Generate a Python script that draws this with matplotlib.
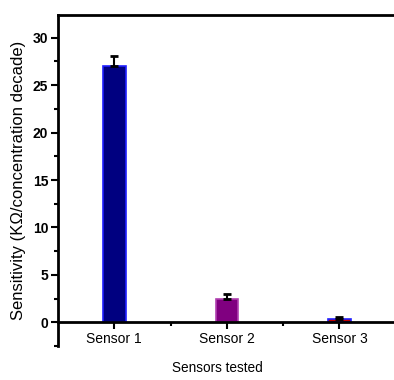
import matplotlib
matplotlib.use("Agg")
import matplotlib.pyplot as plt
from matplotlib.ticker import MultipleLocator, FixedLocator

plt.rcParams['font.family'] = ['Liberation Sans', 'DejaVu Sans']

# datos
sensores = ["Sensor 1", "Sensor 2", "Sensor 3"]
sensibilidad = [27.0, 2.5, 0.3]
error = [1.1, 0.45, 0.25]
relleno = ["#000080", "#800080", "#C00000"]
borde = ["#2020FF", "#B040B0", "#2020FF"]

fig = plt.figure(figsize=(3.94, 3.80), dpi=100)
ax = fig.add_axes([58/394, 34/380, 340/394, 331/380])

posiciones = [1, 2, 3]
ax.bar(posiciones, sensibilidad, width=0.2, color=relleno, edgecolor=borde, linewidth=1.2, zorder=2)
ax.errorbar(posiciones, sensibilidad, yerr=[[0, 0, 0], error], fmt="none",
            ecolor="black", elinewidth=1.5, capsize=3, capthick=2, zorder=3)

ax.set_xlim(0.5, 3.52)
ax.set_ylim(-2.5, 32.4)
ax.spines['bottom'].set_position(('data', 0))
ax.spines['right'].set_visible(False)
for s in ['left', 'top', 'bottom']:
    ax.spines[s].set_linewidth(2)

ax.set_xticks(posiciones)
ax.set_xticklabels(sensores)
ax.xaxis.set_minor_locator(FixedLocator([1.5, 2.5]))
ax.yaxis.set_major_locator(MultipleLocator(5))
ax.yaxis.set_minor_locator(MultipleLocator(2.5))
ax.tick_params(axis='both', which='major', direction='out', length=5, width=1.5, labelsize=10)
ax.tick_params(axis='both', which='minor', direction='out', length=3, width=1.5)
ax.tick_params(axis='x', pad=2)
ax.tick_params(axis='y', pad=2)
for t in ax.get_yticklabels():
    t.set_fontweight('bold')

ax.set_ylabel("Sensitivity (KΩ/concentration decade)", fontsize=12, labelpad=5)
fig.text(217/394, 1 - 368/380, "Sensors tested", ha="center", va="center", fontsize=9.8)

fig.savefig("out.png", dpi=100)
